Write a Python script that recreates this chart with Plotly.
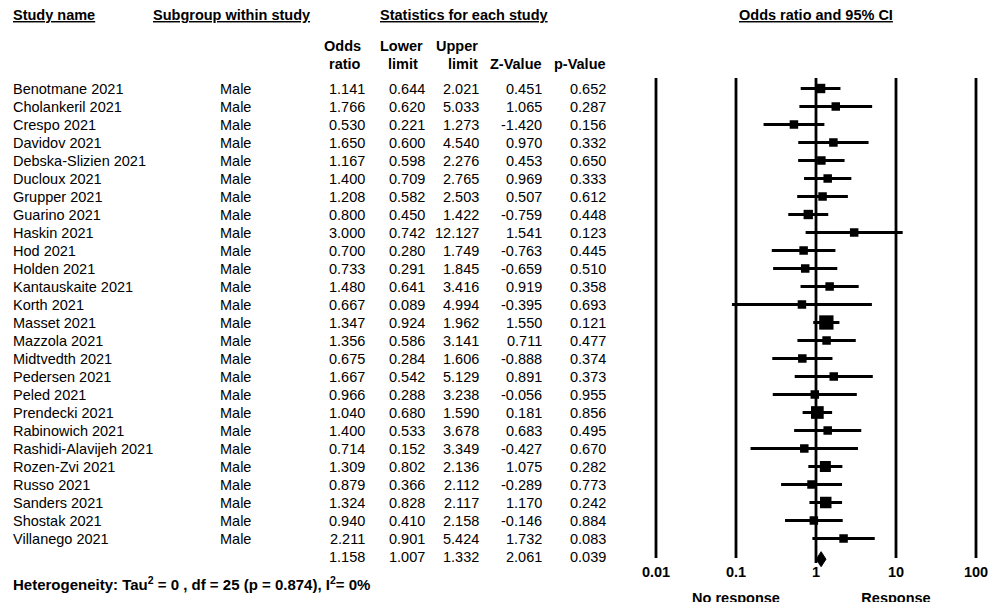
import math
import plotly.graph_objects as go

# ---------------- data ----------------
studies = ["Benotmane 2021", "Cholankeril 2021", "Crespo 2021", "Davidov 2021",
           "Debska-Slizien 2021", "Ducloux 2021", "Grupper 2021", "Guarino 2021",
           "Haskin 2021", "Hod 2021", "Holden 2021", "Kantauskaite 2021", "Korth 2021",
           "Masset 2021", "Mazzola 2021", "Midtvedth 2021", "Pedersen 2021", "Peled 2021",
           "Prendecki 2021", "Rabinowich 2021", "Rashidi-Alavijeh 2021", "Rozen-Zvi 2021",
           "Russo 2021", "Sanders 2021", "Shostak 2021", "Villanego 2021"]
subgroups = ["Male"] * len(studies)
odds_ratio = [1.141, 1.766, 0.530, 1.650, 1.167, 1.400, 1.208, 0.800, 3.000, 0.700,
              0.733, 1.480, 0.667, 1.347, 1.356, 0.675, 1.667, 0.966, 1.040, 1.400,
              0.714, 1.309, 0.879, 1.324, 0.940, 2.211]
lower_limit = [0.644, 0.620, 0.221, 0.600, 0.598, 0.709, 0.582, 0.450, 0.742, 0.280,
               0.291, 0.641, 0.089, 0.924, 0.586, 0.284, 0.542, 0.288, 0.680, 0.533,
               0.152, 0.802, 0.366, 0.828, 0.410, 0.901]
upper_limit = [2.021, 5.033, 1.273, 4.540, 2.276, 2.765, 2.503, 1.422, 12.127, 1.749,
               1.845, 3.416, 4.994, 1.962, 3.141, 1.606, 5.129, 3.238, 1.590, 3.678,
               3.349, 2.136, 2.112, 2.117, 2.158, 5.424]
z_value = [0.451, 1.065, -1.420, 0.970, 0.453, 0.969, 0.507, -0.759, 1.541, -0.763,
           -0.659, 0.919, -0.395, 1.550, 0.711, -0.888, 0.891, -0.056, 0.181, 0.683,
           -0.427, 1.075, -0.289, 1.170, -0.146, 1.732]
p_value = [0.652, 0.287, 0.156, 0.332, 0.650, 0.333, 0.612, 0.448, 0.123, 0.445,
           0.510, 0.358, 0.693, 0.121, 0.477, 0.374, 0.373, 0.955, 0.856, 0.495,
           0.670, 0.282, 0.773, 0.242, 0.884, 0.083]
summary_or = 1.158
summary_lower = 1.007
summary_upper = 1.332
summary_z = 2.061
summary_p = 0.039
tick_values = [0.01, 0.1, 1, 10, 100]
tick_labels = ["0.01", "0.1", "1", "10", "100"]
heterogeneity = "Heterogeneity: Tau<sup>2</sup> = 0 , df = 25 (p = 0.874), I<sup>2</sup>= 0%"

# ---------------- layout constants ----------------
WIN_W, WIN_H = 990, 602
OFF = 0                              # page body margin is removed below
W, H = WIN_W - OFF, WIN_H - OFF
ROW0, ROWH = 88.5, 18.0              # screen y of first row, row height
ONE_PX, DEC_PX = 816.0, 80.0         # screen x of OR=1, pixels per decade
FONT = "Liberation Sans, Arial, sans-serif"
FS = 14.5


def ry(sy):
    """screen y (pixels) -> row units"""
    return (sy - ROW0) / ROWH


def px(sx):
    """screen x (pixels) -> paper fraction"""
    return (sx - OFF) / W


n = len(studies)
summary_row = n
fig = go.Figure()

# reference vertical lines
for v in tick_values:
    bottom = ry(563) if v == 1 else ry(558)
    fig.add_trace(go.Scatter(x=[v, v], y=[ry(78), bottom], mode="lines",
                             line=dict(color="black", width=2.8),
                             hoverinfo="skip", showlegend=False))

# confidence interval lines
ci_x, ci_y = [], []
for i in range(n):
    ci_x += [lower_limit[i], upper_limit[i], None]
    ci_y += [i, i, None]
fig.add_trace(go.Scatter(x=ci_x, y=ci_y, mode="lines",
                         line=dict(color="black", width=3),
                         hoverinfo="skip", showlegend=False))

# squares sized by inverse-variance weight
sizes = []
for i in range(n):
    se = (math.log(upper_limit[i]) - math.log(lower_limit[i])) / 3.92
    w = 1.0 / se ** 2
    sizes.append(max(8.5, 2.75 * math.sqrt(w)))
fig.add_trace(go.Scatter(x=odds_ratio, y=list(range(n)), mode="markers",
                         marker=dict(symbol="square", size=sizes, color="black",
                                     opacity=1, line=dict(width=0)),
                         showlegend=False))

# summary diamond
dh = 7.5 / ROWH
dy = summary_row + 0.15
fig.add_trace(go.Scatter(x=[summary_lower, summary_or, summary_upper, summary_or, summary_lower],
                         y=[dy, dy - dh, dy, dy + dh, dy],
                         mode="lines", fill="toself", fillcolor="black",
                         line=dict(color="black", width=1), showlegend=False))

# tick labels
fig.add_trace(go.Scatter(x=tick_values, y=[ry(573)] * len(tick_values), mode="text",
                         text=["<b>%s</b>" % t for t in tick_labels],
                         textfont=dict(family=FONT, size=FS, color="black"),
                         textposition="middle center", cliponaxis=False,
                         showlegend=False))
fig.add_trace(go.Scatter(x=[0.1, 10], y=[ry(599), ry(599)], mode="text",
                         text=["<b>No response</b>", "<b>Response</b>"],
                         textfont=dict(family=FONT, size=FS, color="black"),
                         textposition="middle center", cliponaxis=False,
                         showlegend=False))

ann = []


def add(text, x, y, anchor="left", bold=False, size=FS):
    ann.append(dict(text=("<b>%s</b>" % text) if bold else text,
                    x=px(x), y=y, xref="paper", yref="y",
                    xanchor=anchor, yanchor="middle", showarrow=False,
                    font=dict(family=FONT, size=size, color="black")))


# column positions (screen pixels)
X_STUDY, X_SUB = 12, 219
R_OR, R_LO, R_UP, R_Z, R_P = 366, 426, 480, 543, 607

# headers
add("<u>Study name</u>", X_STUDY - 1, ry(15), bold=True)
add("<u>Subgroup within study</u>", 151, ry(15), bold=True)
add("<u>Statistics for each study</u>", 378, ry(15), bold=True)
add("<u>Odds ratio and 95% CI</u>", ONE_PX, ry(15), anchor="center", bold=True)
add("Odds", R_OR - 3, ry(46), anchor="right", bold=True)
add("ratio", R_OR - 3, ry(64), anchor="right", bold=True)
add("Lower", R_LO - 1, ry(46), anchor="right", bold=True)
add("limit", R_LO - 6, ry(64), anchor="right", bold=True)
add("Upper", R_UP, ry(46), anchor="right", bold=True)
add("limit", R_UP, ry(64), anchor="right", bold=True)
add("Z-Value", R_Z + 1, ry(64), anchor="right", bold=True)
add("p-Value", R_P + 1, ry(64), anchor="right", bold=True)

# body rows
for i in range(n):
    add(studies[i], X_STUDY - 1, i)
    add(subgroups[i], X_SUB - 1, i)
    add("%.3f" % odds_ratio[i], R_OR + 1, i, anchor="right")
    add("%.3f" % lower_limit[i], R_LO + 1, i, anchor="right")
    add("%.3f" % upper_limit[i], R_UP + 1, i, anchor="right")
    add("%.3f" % z_value[i], R_Z + 1, i, anchor="right")
    add("%.3f" % p_value[i], R_P + 1, i, anchor="right")

# summary row
for val, r in zip([summary_or, summary_lower, summary_upper, summary_z, summary_p],
                  [R_OR, R_LO, R_UP, R_Z, R_P]):
    add("%.3f" % val, r + 1, summary_row, anchor="right")

add(heterogeneity, X_STUDY - 1, ry(583), bold=True, size=15)

x_left = (OFF - ONE_PX) / DEC_PX
x_right = (WIN_W - ONE_PX) / DEC_PX
fig.update_layout(
    width=W, height=H,
    margin=dict(l=0, r=0, t=0, b=0),
    paper_bgcolor="white", plot_bgcolor="white",
    xaxis=dict(type="log", range=[x_left, x_right], visible=False, domain=[0, 1], fixedrange=True),
    yaxis=dict(range=[ry(WIN_H), ry(OFF)], visible=False, domain=[0, 1], fixedrange=True),
    annotations=ann,
    showlegend=False,
    hovermode=False,
    font=dict(family=FONT, color="black"),
)

fig.write_html("out.html",
               config={"displayModeBar": False},
               post_script="document.body.style.margin='0';"
                           "document.body.style.overflow='hidden';")
